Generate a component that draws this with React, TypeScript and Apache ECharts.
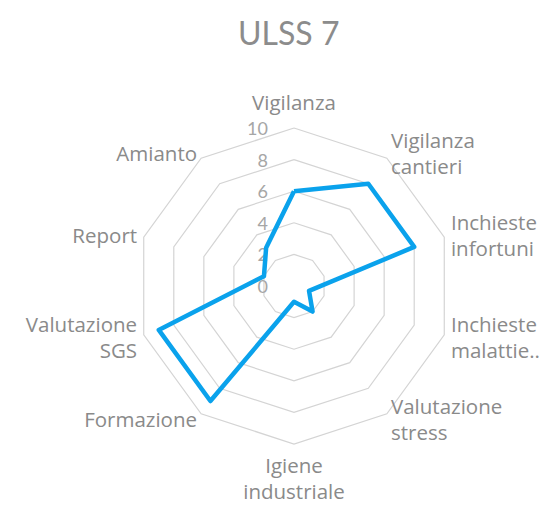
import React, { useEffect, useRef } from "react";
import * as echarts from "echarts";

const titleText = "ULSS 7";
const categories = [
  "Vigilanza",
  "Vigilanza\ncantieri",
  "Inchieste\ninfortuni",
  "Inchieste\nmalattie..",
  "Valutazione\nstress",
  "Igiene\nindustriale",
  "Formazione",
  "Valutazione\nSGS",
  "Report",
  "Amianto",
];
const values = [6, 8, 8, 1, 2, 1, 9, 9, 2, 3];
const axisMin = 0;
const axisMax = 10;
const axisInterval = 2;

const FONT = "'Open Sans', 'Noto Sans', sans-serif";

export default function App() {
  const ref = useRef<HTMLDivElement>(null);
  useEffect(() => {
    if (!ref.current) return;
    const chart = echarts.init(ref.current, undefined, { renderer: "svg" });
    // ECharts lays indicators counter-clockwise; the reference goes clockwise.
    const order = [0, ...categories.map((_, i) => i).slice(1).reverse()];
    const indicator = order.map((i) => {
      const ind: any = {
        name: categories[i],
        min: axisMin,
        max: axisMax,
        nameGap: i === 0 ? 13 : i === 5 ? 8 : 7,
      };
      if (i === 0) {
        ind.axisLabel = {
          show: true,
          color: "#a6a6a6",
          fontSize: 18,
          fontFamily: "Lato, sans-serif",
          margin: 26,
        };
      }
      return ind;
    });
    chart.setOption({
      animation: false,
      title: {
        text: titleText,
        left: 233,
        top: 11,
        textStyle: {
          color: "#8c8c8c",
          fontSize: 32,
          fontWeight: "normal",
          fontFamily: "Lato, sans-serif",
        },
      },
      radar: {
        center: [294, 286],
        radius: 158,
        startAngle: 90,
        splitNumber: (axisMax - axisMin) / axisInterval,
        shape: "polygon",
        indicator,
        axisName: {
          color: "#8a8a8a",
          fontSize: 20.5,
          fontFamily: FONT,
          lineHeight: 26,
        },
        axisLine: { show: false },
        axisTick: { show: false },
        axisLabel: { show: false },
        splitArea: { show: false },
        splitLine: { lineStyle: { color: "#d4d4d4", width: 1.2 } },
      },
      series: [
        {
          type: "radar",
          symbol: "none",
          lineStyle: { color: "#0aa2ec", width: 4.5 },
          itemStyle: { color: "#0aa2ec" },
          data: [{ value: order.map((i) => values[i]), name: titleText }],
        },
      ],
    });
    return () => chart.dispose();
  }, []);
  return (
    <div
      ref={ref}
      style={{ position: "absolute", left: 0, top: 0, width: 546, height: 505, background: "#fff" }}
    />
  );
}
